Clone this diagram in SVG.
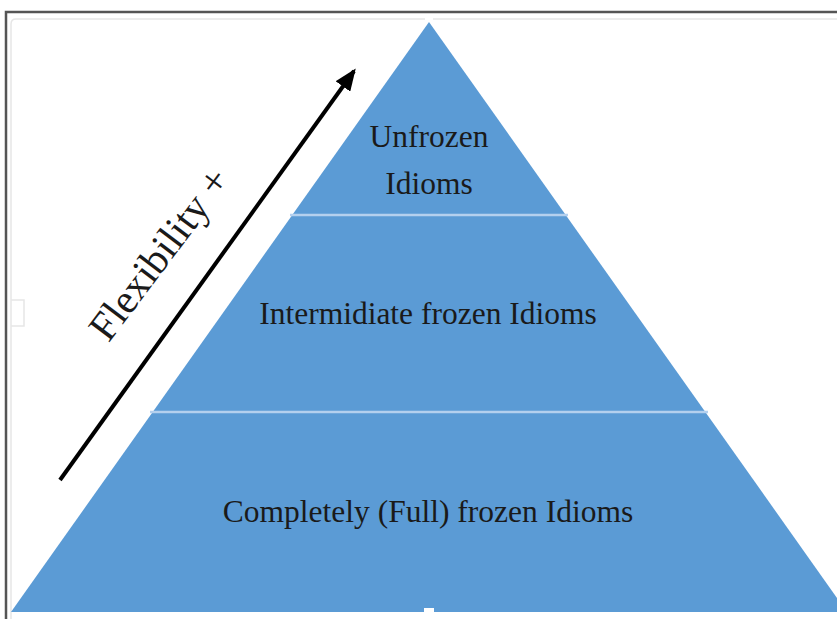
<svg xmlns="http://www.w3.org/2000/svg" width="837" height="619" viewBox="0 0 837 619">
<style>
.lbl{font-family:"Liberation Serif","Times New Roman",serif;font-size:31.5px;fill:#1a1a1a;text-anchor:middle}
.sep{stroke:#b4d0ee;stroke-width:2.5}
</style>
<defs>
<marker id="ah2" markerWidth="22" markerHeight="18" refX="19" refY="9" orient="auto" markerUnits="userSpaceOnUse">
<path d="M0,0 L22,9 L0,18 Z" fill="#000"/>
</marker>
</defs>
<rect width="837" height="619" fill="#fff"/>
<g id="frame">
<path d="M6,619 V12 H837" fill="none" stroke="#555" stroke-width="2.5"/>
<path d="M11,619 V24 Q11,19 16,19 H837" fill="none" stroke="#e6e6e6" stroke-width="1.5"/>
<path d="M11,300 H24 V326 H11" fill="none" stroke="#e6e6e6" stroke-width="1.5"/>
</g>
<g id="pyramid">
<polygon points="429,22 847,612 11,612" fill="#5b9bd5"/>
<line class="sep" x1="290" y1="215" x2="568" y2="215"/>
<line class="sep" x1="150" y1="412" x2="708" y2="412"/>
<rect x="424" y="608" width="10" height="5" fill="#fff"/>
<rect x="425" y="17" width="8" height="4" fill="#fff"/>
</g>
<g id="tier-top">
<text class="lbl" x="429" y="147">Unfrozen</text>
<text class="lbl" x="429" y="194">Idioms</text>
</g>
<g id="tier-middle">
<text class="lbl" x="428" y="324">Intermidiate frozen Idioms</text>
</g>
<g id="tier-bottom">
<text class="lbl" x="428" y="522">Completely (Full) frozen Idioms</text>
</g>
<g id="connectors">
<line x1="60" y1="480" x2="354" y2="71" stroke="#000" stroke-width="4" marker-end="url(#ah2)"/>
</g>
<g id="axis-label">
<text x="0" y="0" transform="translate(170,262) rotate(-53)" style="font-family:'Liberation Serif','Times New Roman',serif;font-size:41px;fill:#1a1a1a;text-anchor:middle">Flexibility +</text>
</g>
</svg>
